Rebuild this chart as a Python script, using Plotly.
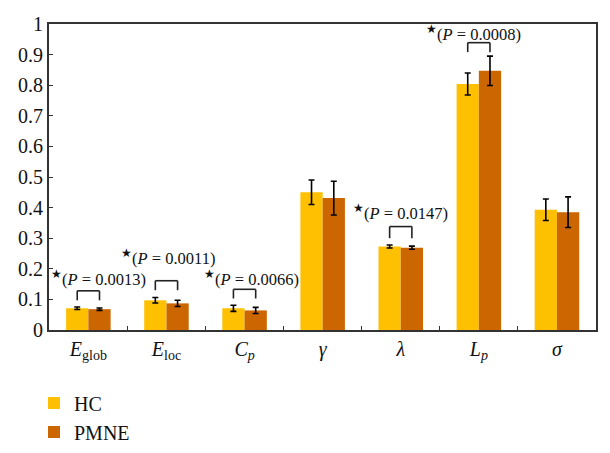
import plotly.graph_objects as go

categories = ["<i>E</i><sub>glob</sub>", "<i>E</i><sub>loc</sub>", "<i>C</i><sub><i>p</i></sub>",
              "<i>γ</i>", "<i>λ</i>", "<i>L</i><sub><i>p</i></sub>", "<i>σ</i>"]
hc_values = [0.071, 0.097, 0.071, 0.450, 0.273, 0.804, 0.393]
hc_err = [0.004, 0.009, 0.010, 0.040, 0.005, 0.036, 0.035]
pmne_values = [0.068, 0.087, 0.064, 0.431, 0.269, 0.847, 0.385]
pmne_err = [0.004, 0.010, 0.010, 0.055, 0.005, 0.048, 0.050]

# significance annotations: category index, label, bracket top/bottom, text y
sig_index = [0, 1, 2, 4, 5]
sig_labels = ["0.0013", "0.0011", "0.0066", "0.0147", "0.0008"]
bracket_top = [0.128, 0.161, 0.133, 0.338, 0.939]
bracket_bottom = [0.097, 0.130, 0.103, 0.300, 0.908]
label_y = [0.168, 0.238, 0.168, 0.383, 0.968]
label_x_offset = [-0.504, -0.608, -0.542, -0.635, -0.701]

HC_COLOR = "#FEC000"
PMNE_COLOR = "#CC6600"
FONT = "Liberation Serif"

fig = go.Figure()
fig.add_trace(go.Bar(x=categories, y=hc_values, name="HC", marker_color=HC_COLOR,
                     marker_line_width=0,
                     error_y=dict(type="data", array=hc_err, color="black", thickness=1.6, width=3)))
fig.add_trace(go.Bar(x=categories, y=pmne_values, name="PMNE", marker_color=PMNE_COLOR,
                     marker_line_width=0,
                     error_y=dict(type="data", array=pmne_err, color="black", thickness=1.6, width=3)))

half = 0.1425
for idx, lab, bt, bb, ly, lxo in zip(sig_index, sig_labels, bracket_top, bracket_bottom, label_y, label_x_offset):
    x0 = idx - half
    x1 = idx + half
    line = dict(color="#222222", width=1.6)
    fig.add_shape(type="line", xref="x", yref="y", x0=x0, x1=x1, y0=bt, y1=bt, line=line)
    fig.add_shape(type="line", xref="x", yref="y", x0=x0, x1=x0, y0=bt, y1=bb, line=line)
    fig.add_shape(type="line", xref="x", yref="y", x0=x1, x1=x1, y0=bt, y1=bb, line=line)
    fig.add_annotation(x=idx + lxo, y=ly, xref="x", yref="y", xanchor="left", yanchor="middle",
                       text="<sup>★</sup>(<i>P</i> = " + lab + ")", showarrow=False,
                       font=dict(family=FONT, size=16.5, color="#111111"))

fig.update_layout(
    width=602, height=445,
    margin=dict(l=41, r=14, t=16, b=123, autoexpand=False),
    paper_bgcolor="white", plot_bgcolor="white",
    barmode="group", bargap=0.43, bargroupgap=0,
    font=dict(family=FONT, size=20, color="#111111"),
    showlegend=True,
    legend=dict(x=26 / 602, y=0.156, xref="container", yref="container", xanchor="left", yanchor="top",
                orientation="v", font=dict(family=FONT, size=20), bgcolor="rgba(0,0,0,0)"),
)
fig.update_xaxes(showline=True, linecolor="#333333", linewidth=2, mirror=True,
                 ticks="inside", ticklen=4, tickcolor="#333333", tickson="boundaries",
                 showgrid=False, automargin=False, tickfont=dict(family=FONT, size=20))
fig.update_yaxes(range=[0, 1], dtick=0.1, showline=True, linecolor="#333333", linewidth=2, mirror=True,
                 ticks="inside", ticklen=4, tickcolor="#333333", showgrid=False, zeroline=False,
                 automargin=False, tickfont=dict(family=FONT, size=20))

fig.write_html("out.html")
